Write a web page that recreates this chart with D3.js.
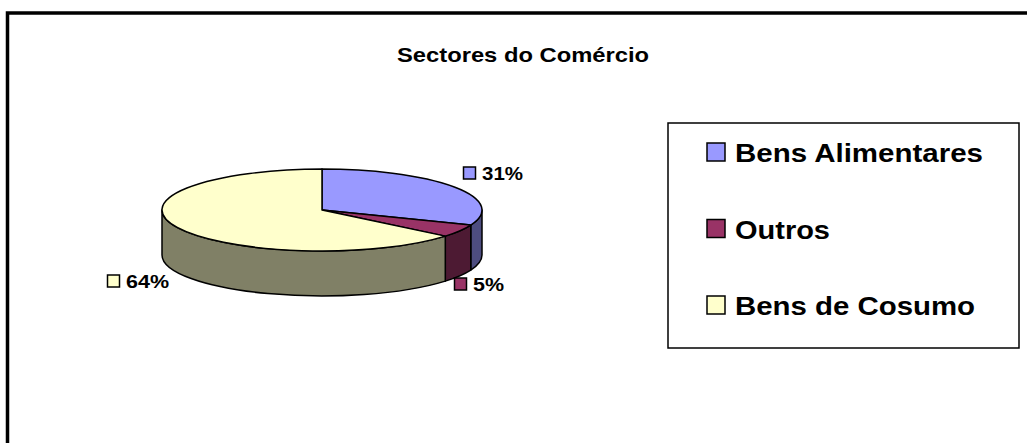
<!DOCTYPE html>
<html>
<head>
<meta charset="utf-8">
<script src="https://cdn.jsdelivr.net/npm/d3@7"></script>
<style>
  html, body { margin: 0; padding: 0; background: #fff; }
  svg { display: block; font-family: "Liberation Sans", Arial, sans-serif; font-weight: bold; }
</style>
</head>
<body>
<div id="chart"></div>
<script>
// dados do gráfico
var categorias = ["Bens Alimentares", "Outros", "Bens de Cosumo"];
var valores = [31, 5, 64];
var rotulos = ["31%", "5%", "64%"];
var coresTopo = ["#9999FF", "#993366", "#FFFFCC"];
var coresLado = ["#4D4D80", "#4D1A33", "#808066"];
var titulo = "Sectores do Comércio";

var W = 1027, H = 443;
var svg = d3.select("#chart").append("svg")
    .attr("width", W)
    .attr("height", H);

// moldura exterior
svg.append("rect")
    .attr("x", 7.5).attr("y", 13)
    .attr("width", W + 20).attr("height", H + 20)
    .attr("fill", "white")
    .attr("stroke", "black")
    .attr("stroke-width", 3.5);

svg.append("text")
    .attr("x", 397).attr("y", 62)
    .attr("font-size", 21)
    .attr("textLength", 252)
    .attr("lengthAdjust", "spacingAndGlyphs")
    .text(titulo);

// pizza 3D
var cx = 322, cy = 210, rx = 160, ry = 41, prof = 45;
function pt(a, dy) {
    return [cx + rx * Math.sin(a), cy - ry * Math.cos(a) + (dy || 0)];
}

var pie = d3.pie().sort(null).value(function(d) { return d; });
var arcs = pie(valores);

var g = svg.append("g");

// lados (só a metade da frente)
arcs.forEach(function(d, i) {
    var a0 = Math.max(d.startAngle, Math.PI / 2);
    var a1 = Math.min(d.endAngle, 3 * Math.PI / 2);
    if (a1 <= a0) return;
    var p0 = pt(a0), p1 = pt(a1), q1 = pt(a1, prof), q0 = pt(a0, prof);
    var big = (a1 - a0) > Math.PI ? 1 : 0;
    var dstr = "M" + p0 + " A" + rx + "," + ry + " 0 " + big + " 1 " + p1 +
        " L" + q1 + " A" + rx + "," + ry + " 0 " + big + " 0 " + q0 + " Z";
    g.append("path")
        .attr("d", dstr)
        .attr("fill", coresLado[i])
        .attr("stroke", "black")
        .attr("stroke-width", 1.5)
        .attr("stroke-linejoin", "round");
});

// topo
arcs.forEach(function(d, i) {
    var p0 = pt(d.startAngle), p1 = pt(d.endAngle);
    var big = (d.endAngle - d.startAngle) > Math.PI ? 1 : 0;
    var dstr = "M" + cx + "," + cy + " L" + p0 + " A" + rx + "," + ry + " 0 " + big + " 1 " + p1 + " Z";
    g.append("path")
        .attr("d", dstr)
        .attr("fill", coresTopo[i])
        .attr("stroke", "black")
        .attr("stroke-width", 1.5)
        .attr("stroke-linejoin", "round");
});

// rótulos de dados
var posRotulos = [[463, 180, 41], [454, 291, 31], [107, 288, 43]];
rotulos.forEach(function(r, i) {
    var p = posRotulos[i];
    svg.append("rect")
        .attr("x", p[0] + 0.5).attr("y", p[1] - 13)
        .attr("width", 12).attr("height", 12)
        .attr("fill", coresTopo[i])
        .attr("stroke", "black")
        .attr("stroke-width", 1.5);
    svg.append("text")
        .attr("x", p[0] + 19).attr("y", p[1])
        .attr("font-size", 18)
        .attr("textLength", p[2])
        .attr("lengthAdjust", "spacingAndGlyphs")
        .text(r);
});

// legenda
var leg = svg.append("g");
leg.append("rect")
    .attr("x", 668).attr("y", 123)
    .attr("width", 351).attr("height", 225)
    .attr("fill", "white")
    .attr("stroke", "black")
    .attr("stroke-width", 1.5);

var larguras = [248, 95, 240];
var yLeg = d3.scalePoint().domain(categorias).range([162, 315]);
categorias.forEach(function(c, i) {
    var y = yLeg(c);
    leg.append("rect")
        .attr("x", 707).attr("y", y - 19)
        .attr("width", 18).attr("height", 18)
        .attr("fill", coresTopo[i])
        .attr("stroke", "black")
        .attr("stroke-width", 1.5);
    leg.append("text")
        .attr("x", 735).attr("y", y)
        .attr("font-size", 25)
        .attr("textLength", larguras[i])
        .attr("lengthAdjust", "spacingAndGlyphs")
        .text(c);
});
</script>
</body>
</html>
